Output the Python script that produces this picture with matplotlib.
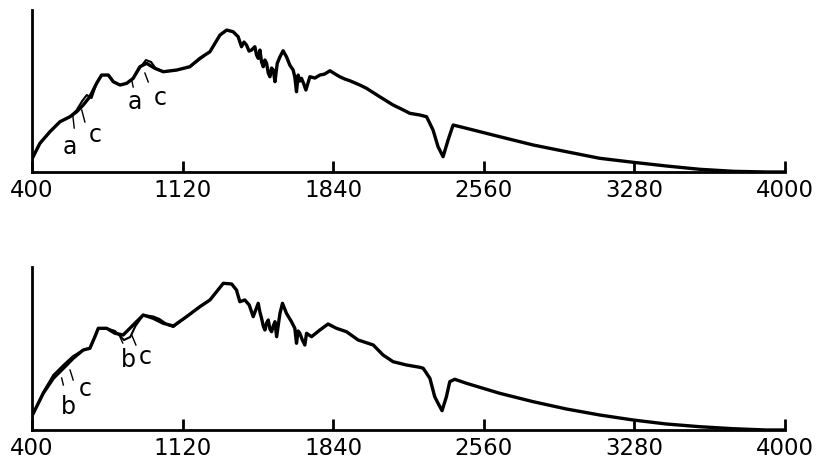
# plot.py
# =============================================================================
# Two stacked spectra (400-4000 cm^-1) with overlapping traces a/c and b/c.
# =============================================================================

import matplotlib
matplotlib.use("Agg")
import matplotlib.pyplot as plt

# -----------------------------------------------------------------------------
# Data (arbitrary intensity units)
# -----------------------------------------------------------------------------
x_ticks = [400, 1120, 1840, 2560, 3280, 4000]

top_a_wn = [400, 438, 486, 534, 582, 614, 645, 677, 709, 733, 765, 789, 821, 853,
            884, 916, 948, 988, 1028, 1092, 1155, 1203, 1251, 1299, 1331, 1362,
            1386, 1402, 1414, 1426, 1438, 1450, 1466, 1474, 1482, 1490, 1498, 1506,
            1514, 1522, 1530, 1538, 1546, 1554, 1562, 1573, 1586, 1601, 1617, 1633,
            1649, 1657, 1665, 1673, 1681, 1689, 1700, 1710, 1729, 1753, 1777, 1800,
            1825, 1850, 1872, 1896, 1920, 1968, 2000, 2063, 2127, 2160, 2207, 2255,
            2287, 2318, 2342, 2366, 2390, 2414, 2478, 2637, 2797, 2956, 3115, 3275,
            3434, 3593, 3753, 3912, 4000]
top_a_val = [13, 28.7, 40.3, 50.3, 55.3, 60.3, 67, 75.3, 88.7, 97, 97, 90.3, 87, 88.7,
             93.7, 105.3, 108.7, 103.7, 100.3, 102, 105.3, 113.7, 120.3, 137, 142, 140.3,
             135.3, 125.3, 130, 127, 121, 122, 125.3, 117, 113.7, 122, 110, 105.3,
             112, 108.7, 99, 95.3, 104, 102, 90.3, 108.7, 115.3, 121.3, 115.3, 107,
             102, 95, 80.3, 97, 91, 93.7, 88, 82, 95.3, 94, 97, 98,
             101.3, 98, 95.3, 93, 91.3, 87, 83.7, 75.3, 67, 63.7, 58.7, 57,
             55.3, 42, 25.3, 15.3, 32, 47, 43.7, 35.3, 27, 20.3, 13.7, 9.7,
             6, 2.7, 0.7, 0, 0]

top_c_wn = [400, 438, 486, 534, 582, 614, 640, 662, 685, 709, 733, 765, 789, 821,
            853, 884, 916, 945, 970, 990, 1028, 1092, 1155, 1219]
top_c_val = [13, 28.7, 40.3, 50.3, 55.3, 62, 71, 77, 74, 88.7, 97, 97, 90.3, 87,
             88.7, 93.7, 104, 112, 110, 104, 100.3, 102, 105.3, 115.3]

bot_b_wn = [400, 422, 454, 502, 550, 597, 645, 677, 701, 717, 757, 797, 836, 884,
            932, 980, 1028, 1076, 1139, 1203, 1251, 1315, 1355, 1378, 1394, 1418,
            1439, 1458, 1470, 1482, 1490, 1498, 1506, 1514, 1522, 1530, 1538, 1546,
            1554, 1562, 1570, 1586, 1598, 1617, 1641, 1657, 1665, 1673, 1681, 1693,
            1705, 1713, 1737, 1777, 1816, 1856, 1904, 1960, 2032, 2079, 2127, 2191,
            2255, 2271, 2303, 2326, 2342, 2361, 2382, 2398, 2422, 2478, 2637, 2797,
            2956, 3115, 3275, 3434, 3593, 3753, 3912, 4000]
bot_b_val = [14, 23.3, 36.7, 51.7, 61.7, 71.7, 80, 81.7, 93.3, 101.7, 101.7, 96.7, 95, 105,
             115, 111.7, 106.7, 104, 113.3, 123.3, 130, 146.7, 146, 140, 128.3, 130,
             125, 113.3, 120, 126.7, 118, 111.7, 104, 100, 107, 110, 101, 98.3,
             104, 108.3, 93.3, 116.7, 126.7, 116.7, 108.3, 101.7, 86.7, 99, 96.7, 90,
             85, 96.7, 93.3, 100, 106, 101.7, 98.3, 90, 85, 75, 68.3, 65,
             62.7, 61.7, 51.7, 33.3, 26.7, 19.3, 33.3, 48.3, 50.7, 46.7, 36.7, 28.3,
             21, 15, 10, 6, 3.3, 1.3, 0, 0]

bot_c_wn = [400, 422, 454, 502, 550, 597, 645, 677, 701, 717, 757, 797, 840, 870,
            895, 932, 980, 1010, 1050, 1076, 1139, 1203]
bot_c_val = [14, 23.3, 38, 55, 65, 74, 80, 81.7, 93.3, 101.7, 101.7, 99, 90, 93,
             104, 115, 113.5, 111, 105, 103, 113.3, 123.3]

# annotation letters: (label, wavenumber, intensity)
top_labels = [("a", 582, 25), ("c", 701, 37), ("a", 892, 70), ("c", 1012, 74)]
bot_labels = [("b", 574, 23), ("c", 653, 41), ("b", 860, 70), ("c", 940, 73)]

# leader strokes: (wn_from, val_from, wn_to, val_to)
top_leaders = [(595, 57, 602, 44), (638, 62, 653, 50), (877, 92, 884, 85), (940, 99, 956, 90)]
bot_leaders = [(542, 52, 550, 45), (582, 60, 597, 50), (821, 93, 834, 87), (877, 95, 897, 85)]


# -----------------------------------------------------------------------------
# Panel helper
# -----------------------------------------------------------------------------
def draw_panel(ax, main_wn, main_val, alt_wn, alt_val, labels, leaders, ymax):
    ax.plot(main_wn, main_val, color="black", lw=2.4, solid_joinstyle="round")
    ax.plot(alt_wn, alt_val, color="black", lw=1.5, solid_joinstyle="round")
    for x0, y0, x1, y1 in leaders:
        ax.plot([x0, x1], [y0, y1], color="black", lw=1.0)
    for txt, x, y in labels:
        ax.text(x, y, txt, fontsize=17, ha="center", va="center")

    ax.set_xlim(400, 4000)
    ax.set_ylim(0, ymax)
    ax.set_xticks(x_ticks)
    ax.set_xticklabels([str(t) for t in x_ticks], fontsize=16.5)
    ax.set_yticks([])
    ax.tick_params(axis="x", direction="in", length=8, width=2, pad=5)
    for side in ("top", "right"):
        ax.spines[side].set_visible(False)
    for side in ("left", "bottom"):
        ax.spines[side].set_linewidth(2)


fig = plt.figure(figsize=(8.2, 4.68), dpi=100)
ax_top = fig.add_axes([0.039, 0.6325, 0.918, 0.346])
ax_bot = fig.add_axes([0.039, 0.0812, 0.918, 0.3483])

draw_panel(ax_top, top_a_wn, top_a_val, top_c_wn, top_c_val, top_labels, top_leaders, 162)
draw_panel(ax_bot, bot_b_wn, bot_b_val, bot_c_wn, bot_c_val, bot_labels, bot_leaders, 163)

fig.savefig("out.png", dpi=100)
